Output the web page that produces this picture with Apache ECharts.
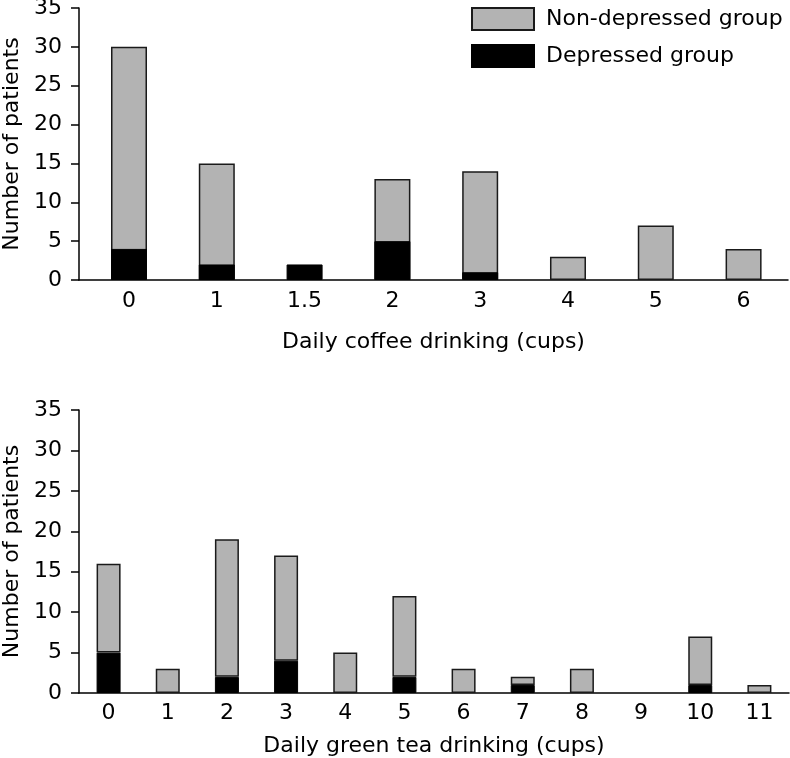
<!DOCTYPE html>
<html>
<head>
<meta charset="utf-8">
<script src="https://cdn.jsdelivr.net/npm/echarts@6/dist/echarts.min.js"></script>
<style>
html,body{margin:0;padding:0;background:#fff;}
#chart{width:790px;height:758px;}
</style>
</head>
<body>
<div id="chart"></div>
<script>
// Top chart: coffee
const coffeeCategories = ['0', '1', '1.5', '2', '3', '4', '5', '6'];
const coffeeDepressed = [4, 2, 2, 5, 1, 0, 0, 0];
const coffeeNonDepressed = [26, 13, 0, 8, 13, 3, 7, 4];
// Bottom chart: green tea
const teaCategories = ['0', '1', '2', '3', '4', '5', '6', '7', '8', '9', '10', '11'];
const teaDepressed = [5, 0, 2, 4, 0, 2, 0, 1, 0, 0, 1, 0];
const teaNonDepressed = [11, 3, 17, 13, 5, 10, 3, 1, 3, 0, 6, 1];
const yTicks = [0, 5, 10, 15, 20, 25, 30, 35];

const FONT = 'DejaVu Sans';
const GRAY = '#b3b3b3';
const EDGE = '#1a1a1a';
const INK = '#000';

const chart = echarts.init(document.getElementById('chart'), null, {renderer: 'canvas'});

function nz(v) { return v === 0 ? null : v; }

const yAxisCommon = {
  type: 'value', min: yTicks[0], max: yTicks[yTicks.length - 1], interval: 5,
  name: 'Number of patients', nameLocation: 'middle', nameGap: 53,
  nameTextStyle: {fontFamily: FONT, fontSize: 22, color: INK},
  axisLine: {show: true, onZero: false, lineStyle: {color: INK, width: 1.5}},
  axisTick: {show: true, length: 8, lineStyle: {color: INK, width: 1.5}},
  axisLabel: {fontFamily: FONT, fontSize: 22, color: INK, margin: 17},
  splitLine: {show: false}
};

// Top chart: stacked bars drawn as total (non-depressed on top of depressed)
const coffeeTotal = coffeeNonDepressed.map((v, i) => v === 0 ? null : v + coffeeDepressed[i]);

const option = {
  animation: false,
  backgroundColor: '#fff',
  legend: {
    data: ['Non-depressed group', 'Depressed group'],
    orient: 'vertical', left: 466, top: 2,
    itemWidth: 62, itemHeight: 22, itemGap: 13,
    textStyle: {fontFamily: FONT, fontSize: 22, color: INK, padding: [0, 0, 0, 7]},
    icon: 'rect'
  },
  grid: [
    {left: 79, top: 8, width: 709, height: 272, containLabel: false, outerBoundsMode: 'none'},
    {left: 79, top: 410, width: 710, height: 283, containLabel: false, outerBoundsMode: 'none'}
  ],
  xAxis: [
    {
      gridIndex: 0, type: 'value', min: -0.5695, max: 7.506,
      name: 'Daily coffee drinking (cups)', nameLocation: 'middle', nameGap: 51,
      nameTextStyle: {fontFamily: FONT, fontSize: 22, color: INK},
      axisLine: {show: true, onZero: false, lineStyle: {color: INK, width: 1.5}},
      axisTick: {show: false},
      splitLine: {show: false},
      axisLabel: {
        fontFamily: FONT, fontSize: 22, color: INK, margin: 10,
        customValues: coffeeCategories.map((c, i) => i),
        formatter: v => coffeeCategories[Math.round(v)]
      }
    },
    {
      gridIndex: 1, type: 'category', data: teaCategories,
      name: 'Daily green tea drinking (cups)', nameLocation: 'middle', nameGap: 42,
      nameTextStyle: {fontFamily: FONT, fontSize: 22, color: INK},
      axisLine: {show: true, lineStyle: {color: INK, width: 1.5}},
      axisTick: {show: false},
      axisLabel: {fontFamily: FONT, fontSize: 22, color: INK, margin: 9, interval: 0}
    }
  ],
  yAxis: [
    Object.assign({gridIndex: 0}, yAxisCommon),
    Object.assign({gridIndex: 1}, yAxisCommon)
  ],
  series: [
    {
      name: 'Non-depressed group', type: 'bar', xAxisIndex: 0, yAxisIndex: 0,
      barWidth: 36, barGap: '-100%',
      itemStyle: {color: GRAY, borderColor: EDGE, borderWidth: 1.5},
      data: coffeeTotal.map((v, i) => [i, v])
    },
    {
      name: 'Depressed group', type: 'bar', xAxisIndex: 0, yAxisIndex: 0,
      barWidth: 36, barGap: '-100%',
      itemStyle: {color: '#000', borderColor: '#000', borderWidth: 1},
      data: coffeeDepressed.map((v, i) => [i, nz(v)])
    },
    {
      name: 'Depressed group', type: 'bar', xAxisIndex: 1, yAxisIndex: 1, stack: 'tea',
      barWidth: 24,
      itemStyle: {color: '#000', borderColor: '#000', borderWidth: 1},
      data: teaDepressed.map(nz)
    },
    {
      name: 'Non-depressed group', type: 'bar', xAxisIndex: 1, yAxisIndex: 1, stack: 'tea',
      barWidth: 24,
      itemStyle: {color: GRAY, borderColor: EDGE, borderWidth: 1.5},
      data: teaNonDepressed.map(nz)
    }
  ]
};
chart.setOption(option);
</script>
</body>
</html>
